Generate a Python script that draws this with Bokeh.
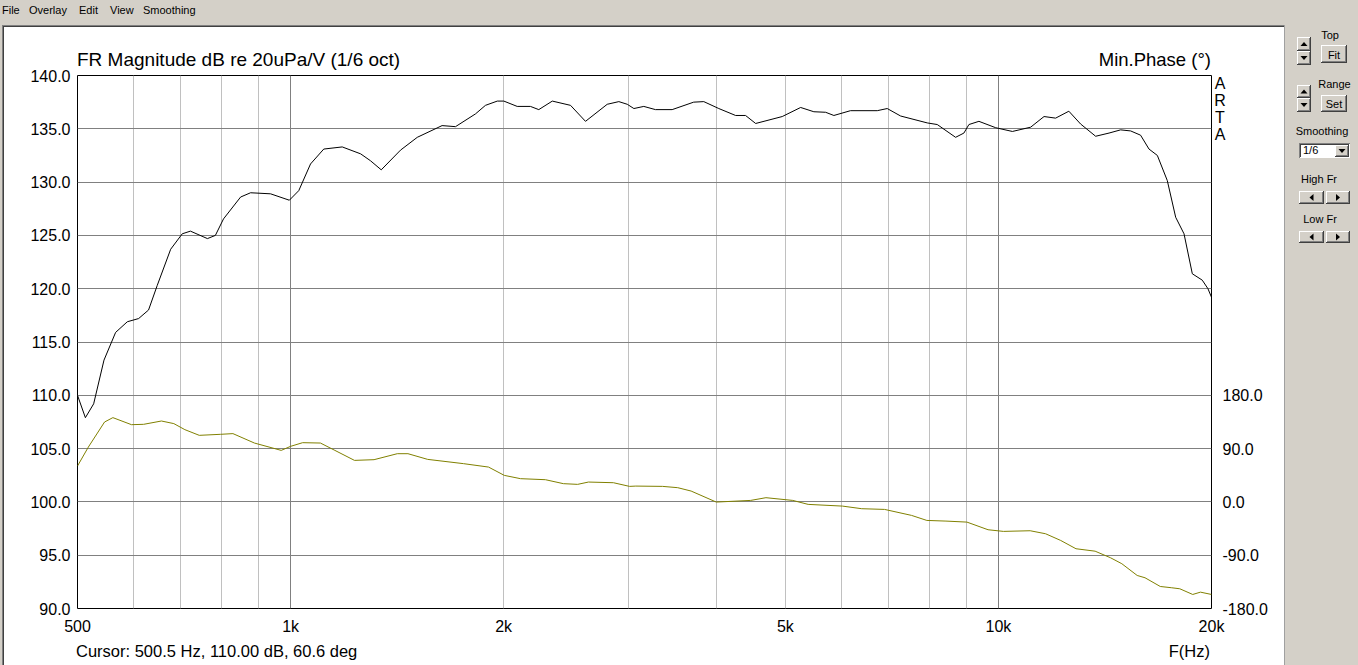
from html import escape
from bokeh.plotting import figure
from bokeh.models import (Range1d, LinearAxis, FixedTicker, PrintfTickFormatter,
                          Grid, GridBox, Div)
from bokeh.embed import file_html
from bokeh.resources import INLINE

# ---------------- data ----------------
mag_freq = [500, 513, 527, 545, 566, 588, 610, 630, 648, 677,
            703, 722, 763, 783, 804, 850, 878, 937, 996, 1027,
            1067, 1114, 1183, 1256, 1297, 1343, 1430, 1510, 1637, 1710,
            1825, 1885, 1959, 2001, 2090, 2182, 2242, 2343, 2486, 2610,
            2801, 2909, 2990, 3055, 3155, 3277, 3460, 3711, 3835, 4027,
            4253, 4393, 4540, 4950, 5255, 5486, 5700, 5855, 6180, 6743,
            6965, 7275, 7935, 8196, 8700, 8938, 9085, 9385, 9913, 10465,
            11105, 11600, 12045, 12575, 13065, 13720, 14330, 14880, 15375, 15880,
            16320, 16770, 17320, 17800, 18290, 18790, 19410, 19770, 20000]
mag_db = [110.0, 107.9, 109.2, 113.3, 115.9, 116.9, 117.2, 118.0, 120.3, 123.7,
          125.15, 125.4, 124.7, 125.0, 126.55, 128.6, 129.0, 128.9, 128.3, 129.2,
          131.7, 133.1, 133.3, 132.65, 132.0, 131.15, 133.0, 134.2, 135.3, 135.2,
          136.4, 137.2, 137.6, 137.6, 137.1, 137.1, 136.8, 137.6, 137.2, 135.7,
          137.3, 137.55, 137.3, 136.9, 137.1, 136.8, 136.8, 137.5, 137.55, 136.9,
          136.25, 136.25, 135.5, 136.15, 137.0, 136.6, 136.55, 136.25, 136.7, 136.7,
          136.9, 136.2, 135.55, 135.4, 134.2, 134.6, 135.4, 135.7, 135.1, 134.75,
          135.15, 136.15, 136.0, 136.65, 135.45, 134.3, 134.6, 134.9, 134.8, 134.4,
          133.1, 132.5, 130.15, 126.7, 125.15, 121.4, 120.8, 120.0, 119.2]

phase_freq = [500, 518, 546, 561, 596, 620, 657, 684, 709, 743,
              796, 829, 889, 970, 1000, 1040, 1102, 1155, 1231, 1312,
              1415, 1465, 1562, 1755, 1904, 2004, 2113, 2291, 2429, 2544,
              2635, 2858, 3012, 3074, 3354, 3523, 3680, 3994, 4467, 4694,
              5122, 5385, 6022, 6410, 6905, 7538, 7923, 8431, 9027, 9668,
              10164, 11088, 11658, 12246, 12870, 13696, 14398, 14940, 15705, 16110,
              16930, 17575, 18040, 18815, 19295, 20000]
phase_deg = [60.6, 92.6, 134.9, 142.3, 130.4, 131.0, 136.6, 132.2, 122.0, 112.4,
             114.1, 115.3, 99.4, 87.0, 93.8, 100.0, 99.4, 87.0, 70.1, 71.3,
             81.4, 81.4, 71.8, 64.6, 58.8, 44.8, 39.2, 37.5, 30.8, 29.6,
             33.5, 32.4, 26.2, 26.7, 26.2, 24.0, 18.3, -0.3, 2.5, 7.1,
             2.5, -4.2, -7.1, -11.5, -12.7, -22.8, -31.3, -32.4, -34.1, -47.0,
             -49.8, -48.7, -53.8, -65.1, -79.1, -83.2, -94.3, -104.4, -124.2, -128.1,
             -142.8, -145.0, -146.7, -156.3, -152.4, -156.3]

x_ticks = [500, 1000, 2000, 5000, 10000, 20000]
x_tick_labels = ["500", "1k", "2k", "5k", "10k", "20k"]
x_light_grid = [600, 700, 800, 900, 2000, 3000, 4000, 5000, 6000, 7000, 8000, 9000, 20000]
x_dark_grid = [1000, 10000]
y_ticks = [90, 95, 100, 105, 110, 115, 120, 125, 130, 135, 140]
phase_ticks = [-180, -90, 0, 90, 180]

title_text = "FR Magnitude dB re 20uPa/V (1/6 oct)"
phase_title = "Min.Phase (\u00b0)"
cursor_text = "Cursor: 500.5 Hz, 110.00 dB, 60.6 deg"
freq_title = "F(Hz)"
brand_letters = ["A", "R", "T", "A"]
menu_items = ["File", "Overlay", "Edit", "View", "Smoothing"]
panel_labels = ["Top", "Fit", "Range", "Set", "Smoothing", "High Fr", "Low Fr"]
smoothing_choice = "1/6"

# ---------------- chart figure ----------------
W, H = 1358, 665
FL, FR, FT, FB = 77, 1211, 75, 608
GRAY = "#D4D0C8"
FONT = "Liberation Sans"

p = figure(width=W, height=H, x_axis_type="log",
           x_range=Range1d(500, 20000), y_range=Range1d(90, 140),
           output_backend="svg", toolbar_location=None,
           min_border_left=FL, min_border_right=W - FR,
           min_border_top=FT, min_border_bottom=H - FB,
           background_fill_color="white", border_fill_color="white",
           outline_line_color="black", outline_line_width=1, outline_line_alpha=1)
p.extra_y_ranges = {"phase": Range1d(-180, 720)}

p.xgrid.ticker = FixedTicker(ticks=x_light_grid)
p.xgrid.grid_line_color = "#C0C0C0"
p.ygrid.ticker = FixedTicker(ticks=y_ticks)
p.ygrid.grid_line_color = "#808080"
p.add_layout(Grid(dimension=0, ticker=FixedTicker(ticks=x_dark_grid),
                  grid_line_color="#808080"))

def style_axis(ax, standoff):
    ax.axis_line_color = None
    ax.major_tick_line_color = None
    ax.minor_tick_line_color = None
    ax.major_tick_out = 0
    ax.major_tick_in = 0
    ax.minor_tick_out = 0
    ax.minor_tick_in = 0
    ax.major_label_standoff = standoff
    ax.major_label_text_font = FONT
    ax.major_label_text_font_size = "16px"
    ax.major_label_text_color = "black"

xa = p.xaxis[0]
xa.ticker = FixedTicker(ticks=x_ticks)
xa.major_label_overrides = {t: l for t, l in zip(x_ticks, x_tick_labels)}
style_axis(xa, 9)

ya = p.yaxis[0]
ya.ticker = FixedTicker(ticks=y_ticks)
ya.formatter = PrintfTickFormatter(format="%.1f")
style_axis(ya, 7)

ra = LinearAxis(y_range_name="phase", ticker=FixedTicker(ticks=phase_ticks),
                formatter=PrintfTickFormatter(format="%.1f"))
style_axis(ra, 11)
p.add_layout(ra, "right")

p.line(mag_freq, mag_db, line_color="black", line_width=1)
p.line(phase_freq, phase_deg, y_range_name="phase", line_color="#808000", line_width=1)

# ---------------- window chrome and texts outside the frame (inline SVG overlay) ----------------
parts = []

def rects(boxes, fill):
    for (x0, y0, x1, y1) in boxes:
        parts.append(f'<rect x="{x0}" y="{y0}" width="{x1 - x0}" height="{y1 - y0}" fill="{fill}"/>')

def txt(x, y, t, size, anchor="start"):
    parts.append(f'<text x="{x}" y="{y}" font-family="{FONT}" font-size="{size}" '
                 f'text-anchor="{anchor}" fill="black">{escape(t)}</text>')

def tri(cx, cy, d):
    if d == "up":
        pts = [(cx - 3.5, cy + 2), (cx + 3.5, cy + 2), (cx, cy - 2)]
    elif d == "down":
        pts = [(cx - 3.5, cy - 2), (cx + 3.5, cy - 2), (cx, cy + 2)]
    elif d == "left":
        pts = [(cx + 2, cy - 3.5), (cx + 2, cy + 3.5), (cx - 2, cy)]
    else:
        pts = [(cx - 2, cy - 3.5), (cx - 2, cy + 3.5), (cx + 2, cy)]
    parts.append('<polygon points="' + " ".join(f"{a},{b}" for a, b in pts) + '" fill="black"/>')

# gray window areas
rects([(0, 0, W, 25), (0, 0, 2, H), (1285, 0, W, H)], GRAY)
# sunken border of the white panel
rects([(2, 25, 1285, 26), (2, 25, 3, H)], "#808080")
rects([(3, 26, 1284, 27), (3, 26, 4, H)], "#404040")
rects([(1284, 25, 1285, H)], "#A0A0A0")

def raised(blist):
    rects(blist, GRAY)
    for (x0, y0, x1, y1) in blist:
        rects([(x0, y0, x1 - 1, y0 + 1), (x0, y0, x0 + 1, y1 - 1)], "white")
        rects([(x0, y1 - 1, x1, y1), (x1 - 1, y0, x1, y1)], "#404040")
        rects([(x0 + 1, y1 - 2, x1 - 1, y1 - 1), (x1 - 2, y0 + 1, x1 - 1, y1 - 1)], "#808080")

# dropdown field
rects([(1299, 143, 1350, 158)], "white")
rects([(1299, 143, 1350, 144), (1299, 143, 1300, 158)], "#808080")
rects([(1300, 144, 1349, 145), (1300, 144, 1301, 157)], "#404040")

raised([(1297, 37, 1311, 51), (1297, 51, 1311, 65), (1321, 45, 1347, 63),
        (1297, 85, 1311, 98), (1297, 98, 1311, 112), (1321, 95, 1347, 112),
        (1335, 145, 1349, 157),
        (1299, 191, 1324, 204), (1326, 191, 1350, 204),
        (1299, 231, 1324, 243), (1326, 231, 1350, 243)])

for (ax_, ay_, d) in [(1304, 44, "up"), (1304, 58, "down"), (1304, 91.5, "up"),
                      (1304, 105, "down"), (1342, 151, "down"),
                      (1311.5, 197.5, "left"), (1338, 197.5, "right"),
                      (1311.5, 237, "left"), (1338, 237, "right")]:
    tri(ax_, ay_, d)

# menu bar
for t, mx in zip(menu_items, [2, 29, 79, 110, 143]):
    txt(mx, 14, t, "11px")
# control panel labels
for t, lx, ly in zip(panel_labels, [1330, 1334, 1334.5, 1334, 1322, 1319, 1320],
                     [39, 58.5, 88, 108, 134.5, 183, 222.5]):
    txt(lx, ly, t, "11px", "middle")
txt(1303, 154, smoothing_choice, "11px")

# chart texts outside the plotting frame
txt(FL, 66, title_text, "19px")
txt(FR, 66, phase_title, "18.5px", "end")
for i, ch in enumerate(brand_letters):
    txt(1220, 88.5 + 17 * i, ch, "16px", "middle")
txt(76, 657, cursor_text, "16.5px")
txt(1210, 657, freq_title, "16.5px", "end")

svg = (f'<svg xmlns="http://www.w3.org/2000/svg" width="{W}" height="{H}" '
       f'style="display:block">' + "".join(parts) + '</svg>')
overlay = Div(text=svg, width=W, height=H,
              styles={"overflow": "hidden", "pointer-events": "none", "margin": "0", "padding": "0"})

layout = GridBox(children=[(p, 0, 0), (overlay, 0, 0)])

open("out.html", "w").write(file_html(layout, INLINE))
